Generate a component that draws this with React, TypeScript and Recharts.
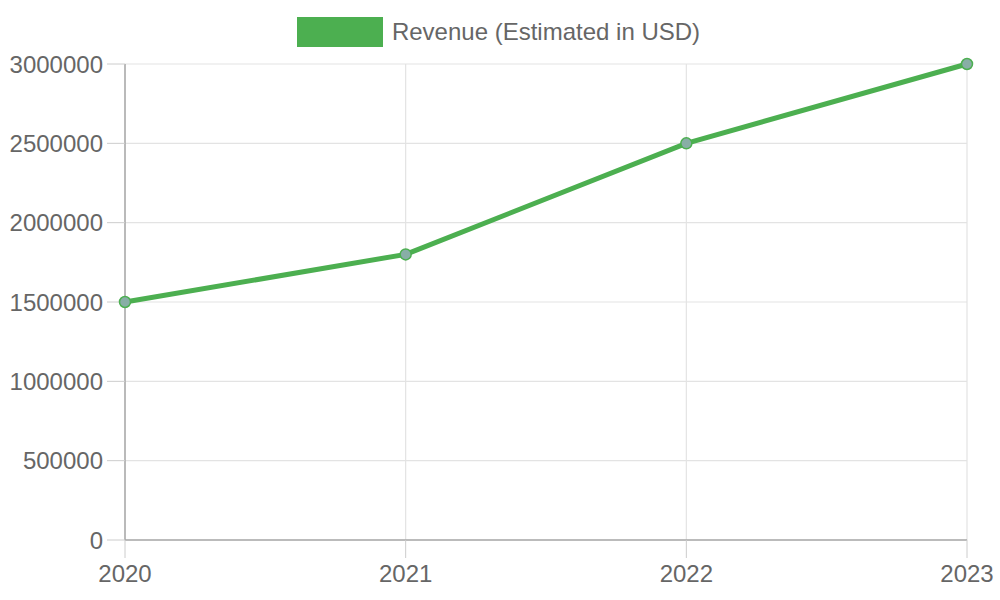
import { LineChart, Line, XAxis, YAxis, CartesianGrid, Legend } from 'recharts';

const years = ['2020', '2021', '2022', '2023'];
const revenue = [1500000, 1800000, 2500000, 3000000];
const yTicks = [0, 500000, 1000000, 1500000, 2000000, 2500000, 3000000];
const seriesName = 'Revenue (Estimated in USD)';

const data = years.map((year, i) => ({ year, revenue: revenue[i] }));

const FONT = '"Liberation Sans", Arial, sans-serif';

function LegendBox() {
  return (
    <div
      style={{
        display: 'flex',
        justifyContent: 'center',
        alignItems: 'center',
        paddingTop: 17,
        fontFamily: FONT,
        fontSize: 24,
        color: '#666',
        position: 'relative',
        left: 18,
      }}
    >
      <span
        style={{
          display: 'inline-block',
          width: 86,
          height: 30,
          background: '#4caf50',
          marginRight: 9,
          marginLeft: -6,
        }}
      />
      <span>{seriesName}</span>
    </div>
  );
}

export default function App() {
  return (
    <div style={{ position: 'absolute', left: 0, top: 0 }}>
      <LineChart
        width={1000}
        height={600}
        data={data}
        margin={{ top: 0, right: 33, bottom: 0, left: 0 }}
      >
        <Legend verticalAlign="top" height={64} content={() => <LegendBox />} />
        <CartesianGrid stroke="#e3e3e3" strokeWidth={1.2} />
        <XAxis
          dataKey="year"
          height={60}
          tickSize={18}
          tickMargin={7}
          stroke="#a8a8a8"
          strokeWidth={1.5}
          tickLine={{ stroke: '#ccc', strokeWidth: 1 }}
          tick={{ fill: '#666', fontSize: 24, fontFamily: FONT }}
        />
        <YAxis
          width={125}
          domain={[0, 3000000]}
          ticks={yTicks}
          interval={0}
          tickSize={18}
          tickMargin={4}
          stroke="#a8a8a8"
          strokeWidth={1.5}
          tickLine={{ stroke: '#ccc', strokeWidth: 1 }}
          tick={{ fill: '#666', fontSize: 24, fontFamily: FONT }}
        />
        <Line
          type="linear"
          dataKey="revenue"
          name={seriesName}
          stroke="#4caf50"
          strokeWidth={5}
          dot={{ r: 5.5, fill: '#88aea6', stroke: '#4caf50', strokeWidth: 1.5 }}
          activeDot={false}
          isAnimationActive={false}
        />
      </LineChart>
    </div>
  );
}
